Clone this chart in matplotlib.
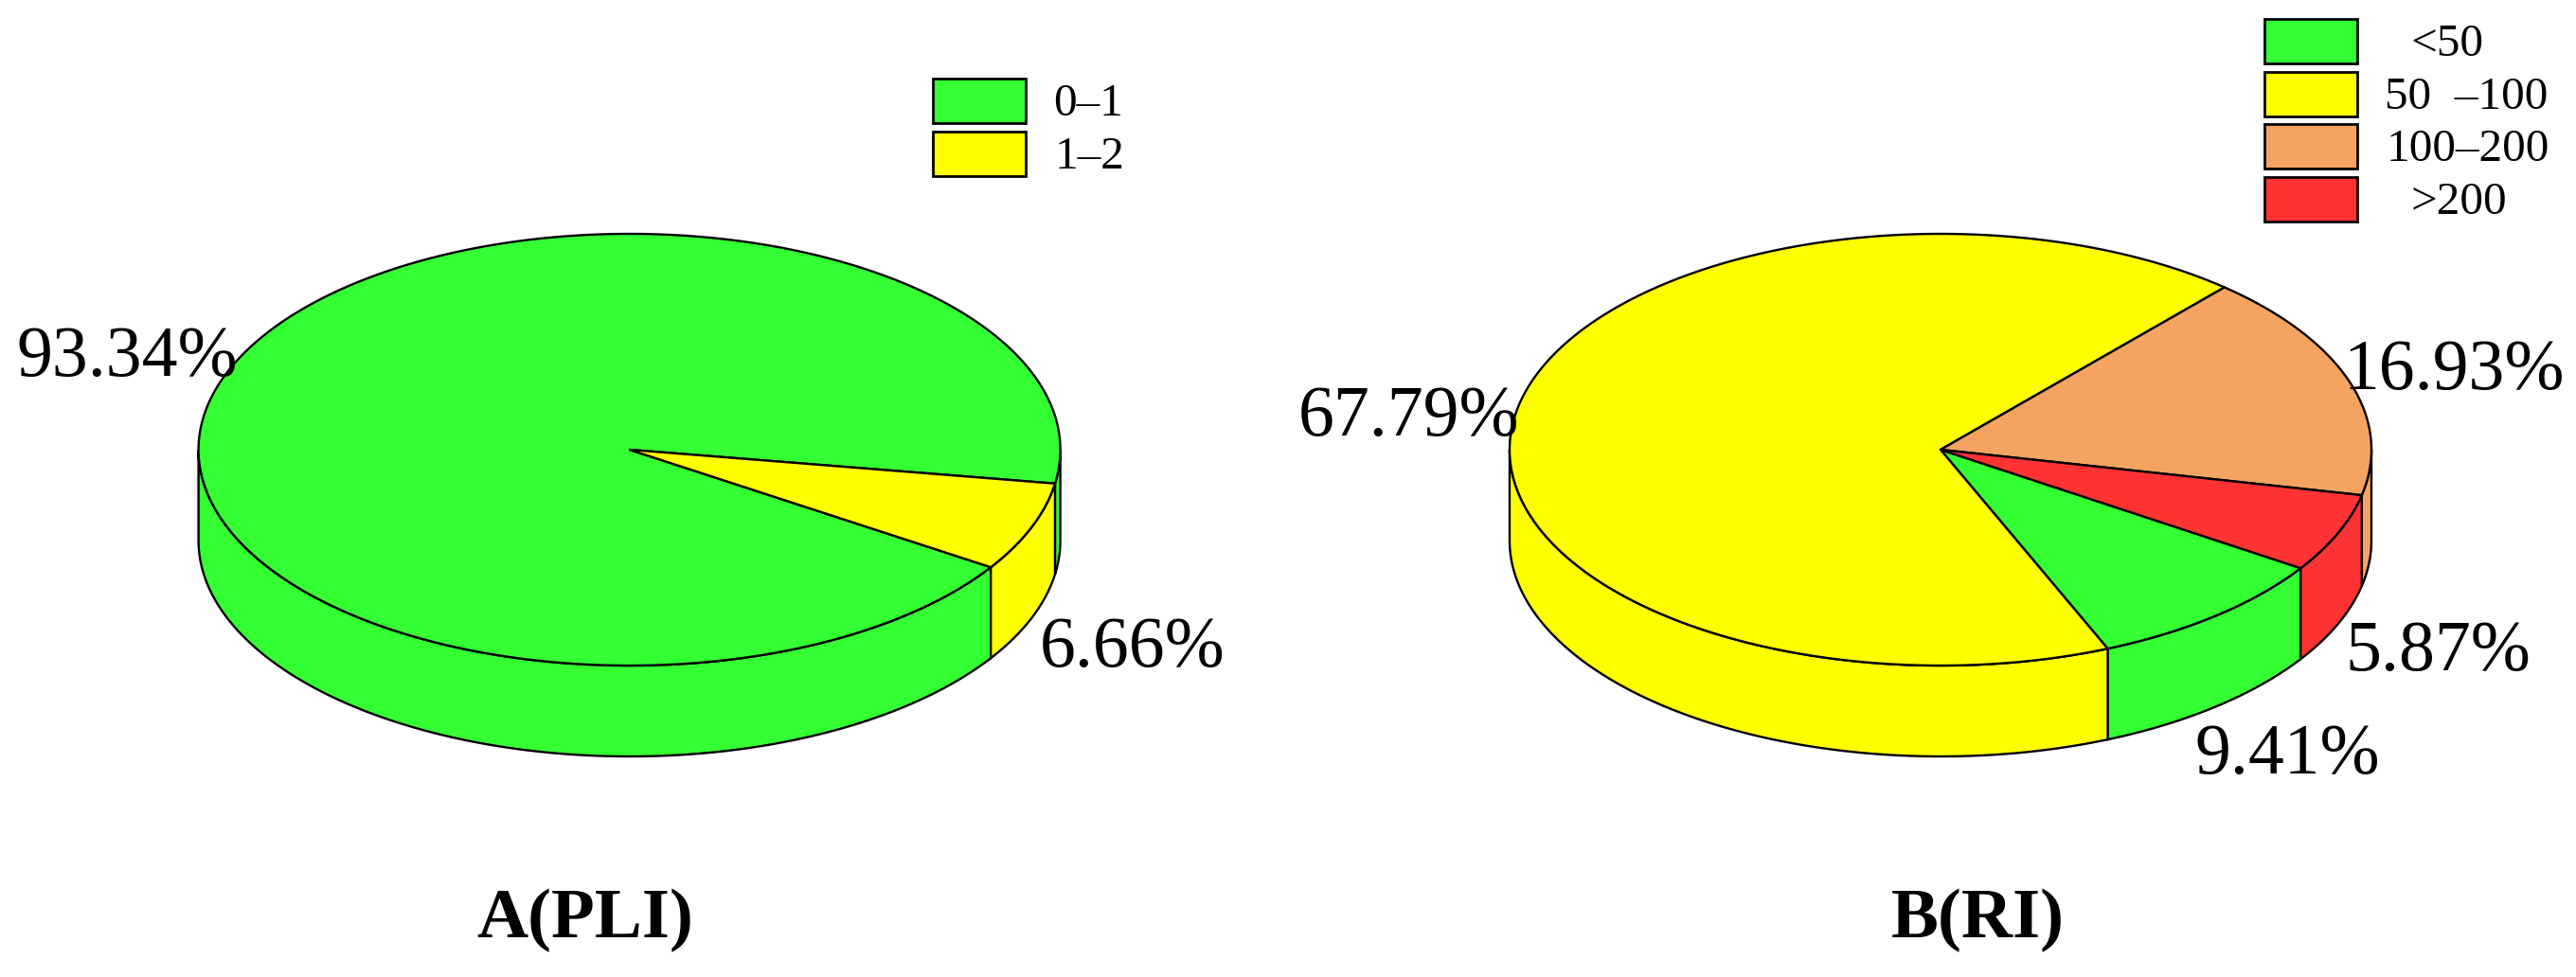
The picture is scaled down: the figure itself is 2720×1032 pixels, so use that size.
"""Two 3D-looking pies, PLI and RI shares."""

import matplotlib

matplotlib.use("Agg")
import matplotlib.pyplot as plt
import numpy as np
from matplotlib.patches import Polygon, Rectangle

pli_classes = ["0–1", "1–2"]
pli_shares = [93.34, 6.66]
pli_colors = ["#33FF33", "#FFFF00"]
pli_labels = ["93.34%", "6.66%"]

ri_classes = ["<50", "50  –100", "100–200", ">200"]
ri_shares = [9.41, 67.79, 16.93, 5.87]
ri_colors = ["#33FF33", "#FFFF00", "#F4A460", "#FF3333"]
ri_labels = ["9.41%", "67.79%", "16.93%", "5.87%"]

plt.rcParams["font.family"] = ["Liberation Serif", "DejaVu Serif"]

RX, RY, DEPTH = 455, 228, 96
LW = 1.7


def ring(cx, cy, a, b, drop=0.0):
    t = np.radians(np.linspace(a, b, max(2, int(abs(b - a) * 2))))
    return np.column_stack([cx + RX * np.cos(t), cy + RY * np.sin(t) + drop])


def draw_pie(ax, cx, cy, shares, colors, start):
    sweeps = np.array(shares) / sum(shares) * 360
    starts = start + np.concatenate([[0], np.cumsum(sweeps)[:-1]])
    # front wall first, only the part facing the viewer
    for a, s, c in zip(starts, sweeps, colors):
        for k in (0, -360):
            lo, hi = max(a + k, 0), min(a + s + k, 180)
            if hi <= lo:
                continue
            pts = np.vstack([ring(cx, cy, lo, hi), ring(cx, cy, hi, lo, DEPTH)])
            ax.add_patch(Polygon(pts, closed=True, fc=c, ec="black", lw=LW, zorder=2))
    for a, s, c in zip(starts, sweeps, colors):
        pts = np.vstack([[cx, cy], ring(cx, cy, a, a + s)])
        ax.add_patch(Polygon(pts, closed=True, fc=c, ec="black", lw=LW, zorder=3))


def draw_legend(ax, x, ys, h, colors, names, text_x, text_ys, size=35.5):
    for y, c in zip(ys, colors):
        ax.add_patch(Rectangle((x, y), 98, h, fc=c, ec="black", lw=2, zorder=3))
    for tx, ty, name in zip(text_x, text_ys, names):
        ax.text(tx, ty, name, fontsize=size, ha="left", va="center", zorder=4)


fig = plt.figure(figsize=(27.2, 10.32), dpi=100)
ax = fig.add_axes([0, 0, 1, 1])
ax.set_xlim(0, 2720)
ax.set_ylim(1032, 0)
ax.axis("off")

draw_pie(ax, 664.6, 475, pli_shares, pli_colors, 33)
draw_pie(ax, 2049, 475, ri_shares, ri_colors, 33.3)

pct = dict(fontsize=54.5, ha="left", va="baseline", zorder=5)
ax.text(17, 397, pli_labels[0], **pct)
ax.text(1098, 704, pli_labels[1], **pct)
ax.text(2318, 817, ri_labels[0], **pct)
ax.text(1371, 460, ri_labels[1], **pct)
ax.text(2474, 411, ri_labels[2], **pct)
ax.text(2476, 708, ri_labels[3], **pct)

draw_legend(ax, 985, [83, 139], 47, pli_colors, pli_classes, [1112, 1114], [110, 166])
draw_legend(ax, 2391, [20, 76, 131, 187], 47, ri_colors, ri_classes,
            [2545, 2518, 2520, 2545], [47, 103, 158, 214])

title = dict(fontsize=54, fontweight="bold", ha="center", va="center")
ax.text(618, 972, "A(PLI)", **title)
ax.text(2088, 972, "B(RI)", **title)

fig.savefig("out.png", dpi=100, facecolor="white")
plt.close(fig)
